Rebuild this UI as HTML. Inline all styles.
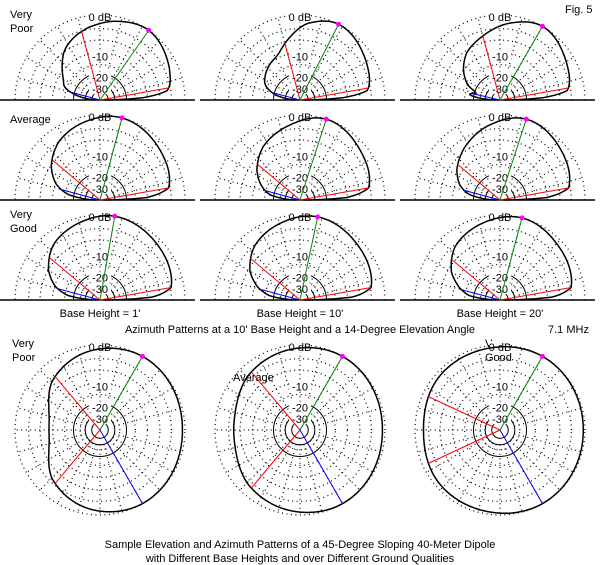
<!DOCTYPE html><html><head><style>body{margin:0;background:#fff}svg{display:block}text{font-family:"Liberation Sans",Arial,sans-serif;font-size:11px;fill:#000}</style></head><body>
<svg id="s" width="600" height="565" xmlns="http://www.w3.org/2000/svg">
<text x="565" y="13">Fig. 5</text>
<text x="10" y="18">Very</text><text x="10" y="32">Poor</text>
<text x="10" y="123">Average</text>
<text x="10" y="218">Very</text><text x="10" y="232">Good</text>
<text x="100" y="317" text-anchor="middle">Base Height = 1'</text>
<text x="300" y="317" text-anchor="middle">Base Height = 10'</text>
<text x="500" y="317" text-anchor="middle">Base Height = 20'</text>
<text x="300" y="333" text-anchor="middle">Azimuth Patterns at a 10' Base Height and a 14-Degree Elevation Angle</text>
<text x="548" y="333">7.1 MHz</text>
<text x="12" y="347">Very</text><text x="12" y="361">Poor</text>
<text x="233" y="381">Average</text>
<text x="485" y="347">Very</text><text x="485" y="361">Good</text>
<text x="300" y="548" text-anchor="middle">Sample Elevation and Azimuth Patterns of a 45-Degree Sloping 40-Meter Dipole</text>
<text x="300" y="562" text-anchor="middle">with Different Base Heights and over Different Ground Qualities</text>
</svg>
<script>
var s=document.getElementById('s'),NS='http://www.w3.org/2000/svg',R=85;
function el(t,a,txt){var e=document.createElementNS(NS,t);for(var k in a)e.setAttribute(k,a[k]);if(txt)e.textContent=txt;s.appendChild(e);return e;}
function rr(db){return R*Math.pow(0.89,-db/2);}
function interp(tab,d){var n=tab.length;for(var i=0;i<n-1;i++){if(d>=tab[i][0]&&d<=tab[i+1][0]){var t=(d-tab[i][0])/(tab[i+1][0]-tab[i][0]);
 var p0=tab[Math.max(i-1,0)][1],p1=tab[i][1],p2=tab[i+1][1],p3=tab[Math.min(i+2,n-1)][1];
 return 0.5*((2*p1)+(-p0+p2)*t+(2*p0-5*p1+4*p2-p3)*t*t+(-p0+3*p1-3*p2+p3)*t*t*t);}}return tab[n-1][1];}
function pt(cx,cy,deg,r){var a=deg*Math.PI/180;return [cx+r*Math.cos(a),cy-r*Math.sin(a)];}
function grid(cx,cy,full){var a0=0,a1=full?360:180;
 [0,-3,-6,-10,-15,-25].forEach(function(db){var r=rr(db);var d='';for(var a=a0;a<=a1;a+=2){var p=pt(cx,cy,a,r);d+=(a==a0?'M':'L')+p[0].toFixed(1)+' '+p[1].toFixed(1);}el('path',{d:d,fill:'none',stroke:'#000','stroke-width':1.2,'stroke-dasharray':'1,3.5'});});
 [-20,-30,-40].forEach(function(db){var r=rr(db);if(full)el('circle',{cx:cx,cy:cy,r:r,fill:'none',stroke:'#000'});else el('path',{d:'M'+(cx-r)+' '+cy+' A'+r+' '+r+' 0 0 1 '+(cx+r)+' '+cy,fill:'none',stroke:'#000'});});
 for(var a=a0+15;a<(full?360:180);a+=15){var p=pt(cx,cy,a,rr(-30)),q=pt(cx,cy,a,R);el('line',{x1:p[0],y1:p[1],x2:q[0],y2:q[1],stroke:'#000','stroke-width':1.2,'stroke-dasharray':'1,3.5'});}
 if(!full)el('line',{x1:cx-100,y1:cy,x2:cx+95,y2:cy,stroke:'#000','stroke-width':1.5});
 [['0 dB',R-2],['-10',rr(-10)-4],['-20',rr(-20)-4],['-30',rr(-30)-4]].forEach(function(l){var y=cy-l[1]+4;el('rect',{x:cx-11,y:y-10,width:22,height:11,fill:'#fff'});el('text',{x:cx,y:y,'text-anchor':'middle'},l[0]);});
}
function pat(cx,cy,tab,full,lines){var d='';var n=full?360:180;for(var a=0;a<=n;a+=1){var p=pt(cx,cy,a,R*interp(tab,a));d+=(a==0?'M':'L')+p[0].toFixed(1)+' '+p[1].toFixed(1);}if(full)d+='Z';el('path',{d:d,fill:'none',stroke:'#000','stroke-width':1.5});
 lines.forEach(function(l){var q=pt(cx,cy,l[0],R*interp(tab,l[0]));el('line',{x1:cx,y1:cy,x2:q[0],y2:q[1],stroke:l[1],'stroke-width':1});if(l[2])el('circle',{cx:q[0],cy:q[1],r:2.5,fill:l[2]});});}
var E=[
 [[0,.05],[3,.5],[8,.8],[25,.9],[55,1],[80,.94],[100,.86],[112,.8],[125,.72],[138,.6],[150,.5],[160,.44],[168,.3],[176,.12],[180,.05]],
 [[0,.05],[3,.5],[8,.8],[30,.9],[63,1],[85,.9],[100,.74],[115,.6],[130,.55],[145,.5],[157,.44],[168,.3],[176,.12],[180,.05]],
 [[0,.05],[3,.5],[8,.8],[30,.9],[60,1],[85,.9],[105,.78],[125,.68],[140,.56],[155,.42],[163,.3],[170,.36],[176,.2],[180,.05]],
 [[0,.05],[3,.55],[10,.82],[40,.92],[75,1],[100,.94],[125,.84],[145,.7],[160,.55],[170,.38],[177,.15],[180,.05]],
 [[0,.05],[3,.55],[10,.82],[40,.92],[72,1],[100,.88],[125,.76],[145,.62],[158,.5],[170,.36],[177,.15],[180,.05]],
 [[0,.05],[3,.55],[10,.82],[40,.93],[72,1],[100,.88],[125,.74],[145,.62],[160,.5],[170,.36],[177,.15],[180,.05]],
 [[0,.05],[3,.6],[10,.85],[45,.94],[80,1],[105,.94],[130,.85],[150,.7],[163,.55],[172,.38],[177,.15],[180,.05]],
 [[0,.05],[3,.6],[10,.85],[45,.94],[78,1],[105,.93],[130,.83],[150,.68],[163,.52],[172,.36],[177,.15],[180,.05]],
 [[0,.05],[3,.6],[10,.85],[45,.94],[75,1],[105,.92],[130,.82],[150,.66],[163,.5],[172,.36],[177,.15],[180,.05]]];
var PK=[55,63,60,75,72,72,80,78,75],RL=[105,105,105,140,140,140,140,140,140],BL=[165,165,167,165,165,165,165,165,165];
for(var i=0;i<9;i++){var cx=100+200*(i%3),cy=100+100*Math.floor(i/3);grid(cx,cy,false);pat(cx,cy,E[i],false,[[RL[i],'#f00'],[10,'#f00'],[BL[i],'#00f'],[PK[i],'#080','#f0f']]);}
var A=[
 [[-60,1],[0,.97],[60,1],[100,.93],[135,.8],[160,.64],[180,.6],[200,.64],[225,.8],[260,.93],[300,1],[360,.97],[420,1]],
 [[-60,1],[0,.97],[60,1],[100,.95],[135,.88],[160,.8],[180,.78],[200,.8],[225,.88],[260,.95],[300,1],[360,.97],[420,1]],
 [[-60,1],[0,.98],[60,1],[100,.97],[140,.95],[180,.9],[220,.95],[260,.97],[300,1],[360,.98],[420,1]]];
var AR=[[130,230],[130,230],[155,205]];
for(var j=0;j<3;j++){var cx=100+200*j,cy=430;grid(cx,cy,true);pat(cx,cy,A[j],true,[[AR[j][0],'#f00'],[AR[j][1],'#f00'],[300,'#00f'],[60,'#080','#f0f']]);}
</script></body></html>
